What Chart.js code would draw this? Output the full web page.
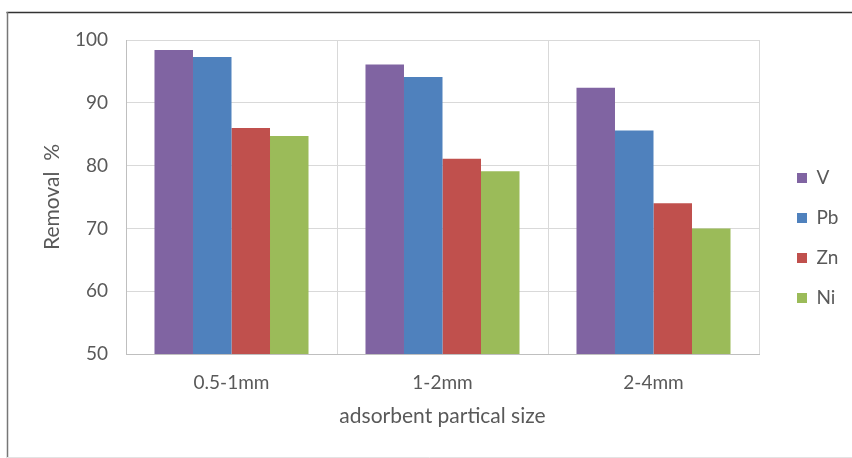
<!DOCTYPE html>
<html>
<head>
<meta charset="utf-8">
<script src="https://cdn.jsdelivr.net/npm/chart.js@4/dist/chart.umd.min.js"></script>
<style>
html,body{margin:0;padding:0;background:#fff;}
canvas{display:block;}
</style>
</head>
<body>
<canvas id="c" width="852" height="458"></canvas>
<script>
const categories = ['0.5-1mm', '1-2mm', '2-4mm'];
const seriesNames = ['V', 'Pb', 'Zn', 'Ni'];
const valuesV  = [98.4, 96.1, 92.4];
const valuesPb = [97.3, 94.1, 85.6];
const valuesZn = [86.0, 81.1, 74.0];
const valuesNi = [84.7, 79.1, 70.0];
const yTicks = [50, 60, 70, 80, 90, 100];
const colors = ['#8064A2', '#4F81BD', '#C0504D', '#9BBB59'];

const FONT = 'Lato, "Open Sans", sans-serif';
const TXT = '#595959';
const LEGEND_W = 93;

const framePlugin = {
  id: 'frame',
  beforeLayout(chart) {
    const lg = chart.legend;
    if (lg && !lg._wrapped) {
      const orig = lg.fit;
      lg.fit = function () { orig.call(this); this.width = LEGEND_W; };
      lg._wrapped = true;
    }
  },
  afterLayout(chart) {
    if (chart.legend) { chart.legend.left += 17; chart.legend.right += 17; }
  },
  beforeDraw(chart) {
    const ctx = chart.ctx;
    ctx.save();
    ctx.fillStyle = '#fff';
    ctx.fillRect(0, 0, chart.width, chart.height);
    ctx.lineWidth = 1.5;
    ctx.strokeStyle = '#333';
    ctx.beginPath(); ctx.moveTo(6.5, 12.5); ctx.lineTo(chart.width, 12.5); ctx.stroke();
    ctx.strokeStyle = '#777';
    ctx.beginPath(); ctx.moveTo(7.5, 12); ctx.lineTo(7.5, chart.height); ctx.stroke();
    ctx.lineWidth = 1;
    ctx.strokeStyle = '#e3e3e3';
    ctx.beginPath(); ctx.moveTo(7, 457.5); ctx.lineTo(chart.width, 457.5); ctx.stroke();
    ctx.restore();
  }
};

const datasets = [valuesV, valuesPb, valuesZn, valuesNi].map((vals, i) => ({
  label: seriesNames[i],
  data: vals,
  backgroundColor: colors[i],
  borderWidth: 0,
  categoryPercentage: 0.73,
  barPercentage: 1.0
}));

new Chart(document.getElementById('c'), {
  type: 'bar',
  data: { labels: categories, datasets },
  plugins: [framePlugin],
  options: {
    responsive: false,
    devicePixelRatio: 1,
    animation: false,
    layout: { padding: { top: 40, left: 33, right: 0, bottom: 22 } },
    plugins: {
      tooltip: { enabled: false },
      legend: {
        position: 'right',
        labels: {
          boxWidth: 10, boxHeight: 10, padding: 21,
          color: TXT, font: { family: FONT, size: 19 }
        }
      }
    },
    scales: {
      x: {
        afterFit(s) { s.height = 82; },
        grid: { offset: true, color: '#d9d9d9', drawTicks: false },
        border: { color: '#bfbfbf' },
        ticks: { color: TXT, font: { family: FONT, size: 19 }, padding: 17 },
        title: { display: true, text: 'adsorbent partical size', color: TXT,
                 font: { family: FONT, size: 21 }, padding: { top: 7, bottom: 7 } }
      },
      y: {
        min: 50, max: 100,
        afterFit(s) { s.width = 93; },
        afterBuildTicks(s) { s.ticks = yTicks.map(v => ({ value: v })); },
        grid: { color: '#d9d9d9', drawTicks: false },
        border: { color: '#bfbfbf' },
        ticks: { color: TXT, font: { family: FONT, size: 19 }, padding: 18 },
        title: { display: true, text: 'Removal  %', color: TXT,
                 font: { family: FONT, size: 21 }, padding: { top: 7, bottom: 7 } }
      }
    }
  }
});
</script>
</body>
</html>
